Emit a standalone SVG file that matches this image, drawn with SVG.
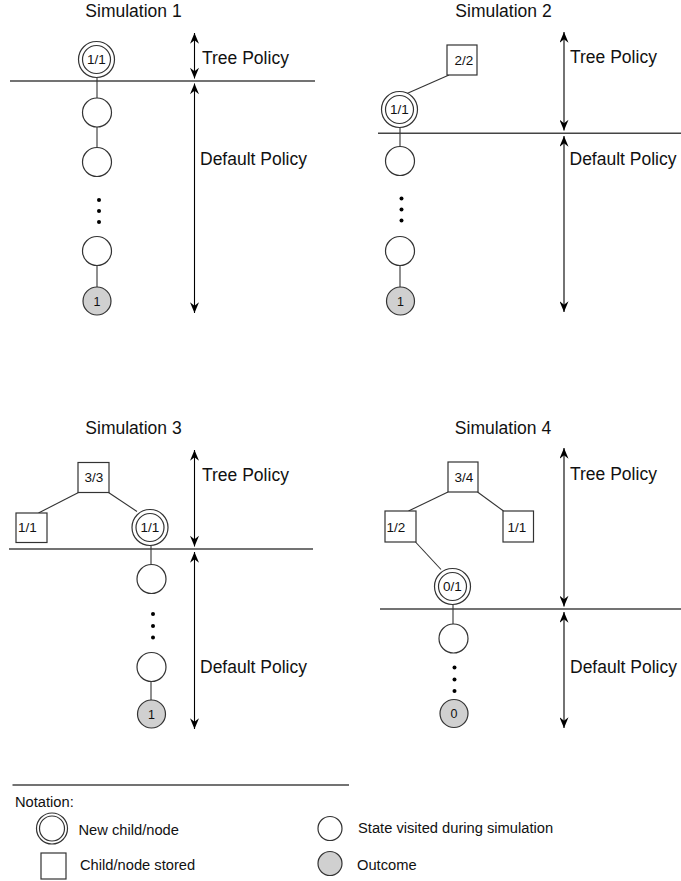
<svg xmlns="http://www.w3.org/2000/svg" width="681" height="881" viewBox="0 0 681 881">
<defs>
<marker id="ah" viewBox="0 0 12 10" refX="12" refY="5" markerWidth="12" markerHeight="9" markerUnits="userSpaceOnUse" orient="auto-start-reverse">
<path d="M0,0 L12,5 L0,10 L4,5 Z" fill="#000"/>
</marker>
</defs>
<style>
text{font-family:"Liberation Sans",Arial,Helvetica,sans-serif;fill:#111}
.title{font-size:17.5px;text-anchor:middle}
.pol{font-size:17.5px}
.lbl{font-size:13.5px;text-anchor:middle}
.leg{font-size:14.7px}
.n{fill:#fff;stroke:#333;stroke-width:1.2}
.g{fill:#d0d0d0;stroke:#333;stroke-width:1.2}
.b{fill:#fff;stroke:#333;stroke-width:1.2}
.e{stroke:#333;stroke-width:1.1;fill:none}
.sep{stroke:#444;stroke-width:1.4}
.arr{stroke:#000;stroke-width:1.1;marker-start:url(#ah);marker-end:url(#ah)}
.dot{fill:#000}
</style>
<rect x="0" y="0" width="681" height="881" fill="#fff"/>

<g id="titles">
<text class="title" x="133.5" y="17">Simulation 1</text>
<text class="title" x="503.5" y="17">Simulation 2</text>
<text class="title" x="133.5" y="434">Simulation 3</text>
<text class="title" x="503" y="433.5">Simulation 4</text>
</g>

<g id="separators">
<line class="sep" x1="10" y1="81" x2="315" y2="81"/>
<line class="sep" x1="378" y1="133.3" x2="681" y2="133.3"/>
<line class="sep" x1="9" y1="549" x2="313" y2="549"/>
<line class="sep" x1="380" y1="609" x2="681" y2="609"/>
</g>

<g id="policy-arrows">
<line class="arr" x1="194.5" y1="33" x2="194.5" y2="78.5"/>
<line class="arr" x1="194.5" y1="83.5" x2="194.5" y2="313"/>
<line class="arr" x1="564" y1="32" x2="564" y2="130.5"/>
<line class="arr" x1="564" y1="136" x2="564" y2="312"/>
<line class="arr" x1="194.5" y1="450" x2="194.5" y2="546.5"/>
<line class="arr" x1="194.5" y1="552" x2="194.5" y2="729"/>
<line class="arr" x1="564" y1="448" x2="564" y2="606.5"/>
<line class="arr" x1="564" y1="612" x2="564" y2="728"/>
<text class="pol" x="202" y="63.5">Tree Policy</text>
<text class="pol" x="200" y="165">Default Policy</text>
<text class="pol" x="570" y="63">Tree Policy</text>
<text class="pol" x="569.5" y="165">Default Policy</text>
<text class="pol" x="202" y="481">Tree Policy</text>
<text class="pol" x="200" y="673">Default Policy</text>
<text class="pol" x="570" y="480">Tree Policy</text>
<text class="pol" x="570" y="673">Default Policy</text>
</g>

<g id="connectors">
<line class="e" x1="97" y1="77.5" x2="97" y2="98"/>
<line class="e" x1="97" y1="127" x2="97" y2="147.5"/>
<line class="e" x1="97" y1="265.5" x2="97" y2="287"/>
<line class="e" x1="449" y1="75" x2="407" y2="93.5"/>
<line class="e" x1="400" y1="127.5" x2="400" y2="146.5"/>
<line class="e" x1="400" y1="265.5" x2="400" y2="287"/>
<line class="e" x1="78.5" y1="492.5" x2="38.5" y2="513"/>
<line class="e" x1="108.5" y1="492.5" x2="137" y2="511.5"/>
<line class="e" x1="151" y1="545.5" x2="151" y2="564.5"/>
<line class="e" x1="151" y1="681.5" x2="151" y2="700"/>
<line class="e" x1="448" y1="492" x2="408.5" y2="511"/>
<line class="e" x1="477.5" y1="492" x2="503.5" y2="511"/>
<line class="e" x1="415.5" y1="542" x2="441" y2="569.5"/>
<line class="e" x1="453" y1="604.5" x2="453" y2="624"/>
</g>

<g id="sim1-nodes">
<g id="s1-new"><circle class="n" cx="96.5" cy="59.5" r="18"/><circle class="n" cx="96.5" cy="59.5" r="14"/><text class="lbl" x="96.5" y="64.3">1/1</text></g>
<g id="s1-v1"><circle class="n" cx="97" cy="112.5" r="14.5"/></g>
<g id="s1-v2"><circle class="n" cx="97" cy="162" r="14.5"/></g>
<g id="s1-dots"><circle class="dot" cx="99" cy="200" r="2"/><circle class="dot" cx="99" cy="211" r="2"/><circle class="dot" cx="99" cy="222" r="2"/></g>
<g id="s1-v3"><circle class="n" cx="97" cy="251" r="14.5"/></g>
<g id="s1-out"><circle class="g" cx="97" cy="301" r="14"/><text class="lbl" x="97" y="305.5" style="font-size:12.5px">1</text></g>
</g>

<g id="sim2-nodes">
<g id="s2-root"><rect class="b" x="447" y="45" width="30" height="30"/><text class="lbl" x="464" y="64.8">2/2</text></g>
<g id="s2-new"><circle class="n" cx="399.5" cy="109.5" r="18"/><circle class="n" cx="399.5" cy="109.5" r="14"/><text class="lbl" x="399.5" y="114.3">1/1</text></g>
<g id="s2-v1"><circle class="n" cx="400" cy="161" r="14.5"/></g>
<g id="s2-dots"><circle class="dot" cx="401.5" cy="198.5" r="2"/><circle class="dot" cx="401.5" cy="209.5" r="2"/><circle class="dot" cx="401.5" cy="220.5" r="2"/></g>
<g id="s2-v2"><circle class="n" cx="400" cy="251" r="14.5"/></g>
<g id="s2-out"><circle class="g" cx="400.5" cy="301" r="14"/><text class="lbl" x="400.5" y="305.5" style="font-size:12.5px">1</text></g>
</g>

<g id="sim3-nodes">
<g id="s3-root"><rect class="b" x="78" y="462.5" width="31" height="30"/><text class="lbl" x="94" y="481.8">3/3</text></g>
<g id="s3-left"><rect class="b" x="16" y="513" width="31" height="29.5"/><text class="lbl" x="27.5" y="532.3">1/1</text></g>
<g id="s3-new"><circle class="n" cx="150" cy="527.5" r="18"/><circle class="n" cx="150" cy="527.5" r="14"/><text class="lbl" x="150" y="532.3">1/1</text></g>
<g id="s3-v1"><circle class="n" cx="151.5" cy="579" r="14.5"/></g>
<g id="s3-dots"><circle class="dot" cx="153" cy="614" r="2"/><circle class="dot" cx="153" cy="626" r="2"/><circle class="dot" cx="153" cy="637.5" r="2"/></g>
<g id="s3-v2"><circle class="n" cx="151.5" cy="667" r="14.5"/></g>
<g id="s3-out"><circle class="g" cx="151.5" cy="714" r="14"/><text class="lbl" x="151.5" y="718.5" style="font-size:12.5px">1</text></g>
</g>

<g id="sim4-nodes">
<g id="s4-root"><rect class="b" x="448" y="462" width="30" height="30"/><text class="lbl" x="464" y="481.8">3/4</text></g>
<g id="s4-left"><rect class="b" x="385" y="511" width="31" height="31"/><text class="lbl" x="396" y="532.3">1/2</text></g>
<g id="s4-right"><rect class="b" x="503" y="511" width="30.5" height="31"/><text class="lbl" x="517" y="532.3">1/1</text></g>
<g id="s4-new"><circle class="n" cx="452.5" cy="586.5" r="18"/><circle class="n" cx="452.5" cy="586.5" r="14"/><text class="lbl" x="452.5" y="591.3">0/1</text></g>
<g id="s4-v1"><circle class="n" cx="453.5" cy="638.5" r="14.5"/></g>
<g id="s4-dots"><circle class="dot" cx="454.5" cy="667.5" r="2"/><circle class="dot" cx="454.5" cy="679.5" r="2"/><circle class="dot" cx="454.5" cy="691" r="2"/></g>
<g id="s4-out"><circle class="g" cx="454" cy="713.5" r="14"/><text class="lbl" x="454" y="718" style="font-size:12.5px">0</text></g>
</g>

<g id="legend">
<line class="sep" x1="12.5" y1="785" x2="349" y2="785"/>
<text class="leg" x="15" y="807">Notation:</text>
<g id="leg-new"><circle class="n" cx="52" cy="828.5" r="15.5"/><circle class="n" cx="52" cy="828.5" r="12.5"/><text class="leg" x="78.5" y="835">New child/node</text></g>
<g id="leg-stored"><rect class="b" x="41" y="853" width="25" height="26"/><text class="leg" x="80" y="870">Child/node stored</text></g>
<g id="leg-visited"><circle class="n" cx="330" cy="828.5" r="12"/><text class="leg" x="358" y="833">State visited during simulation</text></g>
<g id="leg-outcome"><circle class="g" cx="330" cy="863.5" r="12"/><text class="leg" x="357" y="869.5">Outcome</text></g>
</g>
</svg>
